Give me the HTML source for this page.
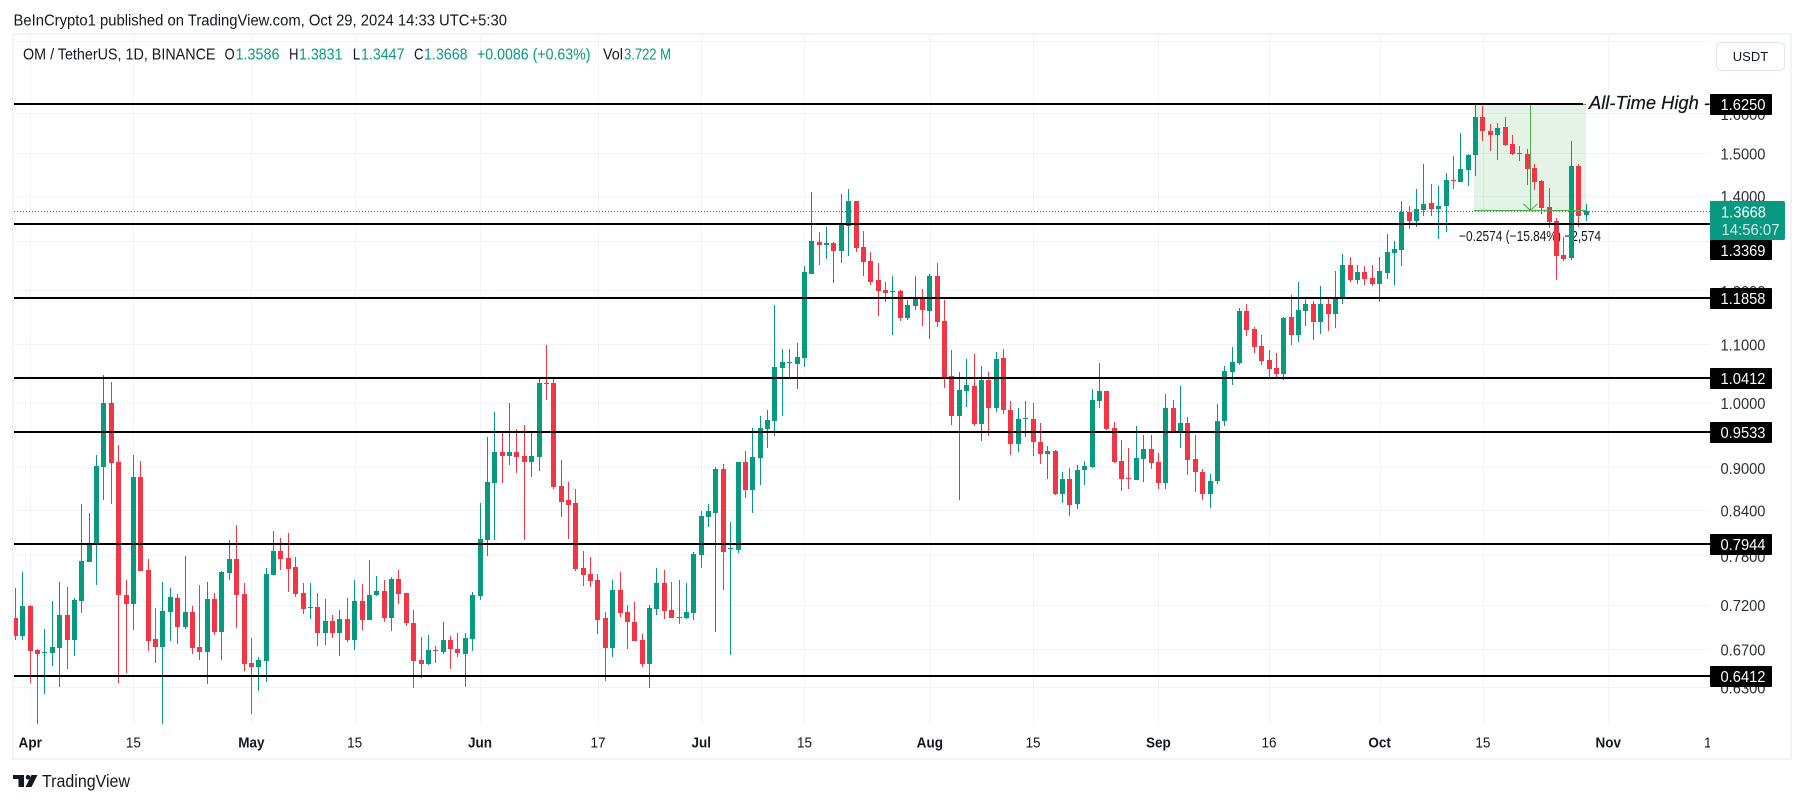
<!DOCTYPE html>
<html lang="en">
<head>
<meta charset="utf-8">
<title>OM / TetherUS chart</title>
<style>
html,body{margin:0;padding:0;background:#fff;width:1804px;height:803px;overflow:hidden}
svg{display:block}
text{font-family:"Liberation Sans",sans-serif;fill:#131722}
</style>
</head>
<body>
<svg id="chart" xmlns="http://www.w3.org/2000/svg" width="1804" height="803" viewBox="0 0 1804 803">
  <rect x="0" y="0" width="1804" height="803" fill="#ffffff"/>
  <text x="13.5" y="25.5" font-size="15.5" textLength="493.5" lengthAdjust="spacingAndGlyphs">BeInCrypto1 published on TradingView.com, Oct 29, 2024 14:33 UTC+5:30</text>
  <rect x="13" y="34" width="1778" height="725" fill="#ffffff" stroke="#f0f3fa" stroke-width="2"/>
  <g id="grid"></g>

  <g>
    <rect x="1474" y="104" width="112" height="106" fill="#4caf50" fill-opacity="0.15"/>
    <text x="1459" y="241" font-size="14.5" textLength="142" lengthAdjust="spacingAndGlyphs">−0.2574 (−15.84%) −2,574</text>
  </g>

  <line x1="14" x2="1710" y1="211.5" y2="211.5" stroke="#089981" stroke-width="1" stroke-dasharray="1 2"/>
  <g id="candles" shape-rendering="crispEdges"></g>

  <g stroke="#4caf50" stroke-width="1" fill="none">
    <line x1="1474" x2="1586" y1="104.5" y2="104.5"/>
    <line x1="1474" x2="1586" y1="210.5" y2="210.5"/>
    <line x1="1530.5" x2="1530.5" y1="104.5" y2="210.5"/>
    <polyline points="1523.3,203.7 1530.5,210.5 1537.5,203.7"/>
  </g>
  <g id="levels" shape-rendering="crispEdges"></g>

  <text x="1589" y="109" font-size="18.5" font-style="italic" textLength="121" lengthAdjust="spacingAndGlyphs" fill="#000" stroke="#000" stroke-width="0.2">All-Time High -</text>

  <g id="y-axis"></g>
  <g>
    <path d="M1710 201H1783a2 2 0 0 1 2 2V238a2 2 0 0 1 -2 2H1710Z" fill="#089981"/>
    <text x="1721" y="217.3" font-size="15.5" textLength="45" lengthAdjust="spacingAndGlyphs" style="fill:#fff">1.3668</text>
    <text x="1721.5" y="235" font-size="15.5" textLength="58" lengthAdjust="spacingAndGlyphs" style="fill:#d3ece7">14:56:07</text>
  </g>
  <g id="level-tags"></g>

  <g>
    <rect x="1716.5" y="42.5" width="68" height="28" rx="5" fill="#fff" stroke="#e0e3eb"/>
    <text x="1750.5" y="61" font-size="13" text-anchor="middle">USDT</text>
  </g>

  <g font-size="15.3">
    <text x="23" y="59.3" textLength="192.5" lengthAdjust="spacingAndGlyphs">OM / TetherUS, 1D, BINANCE</text>
    <text x="224.6" y="59.3" textLength="10" lengthAdjust="spacingAndGlyphs">O</text>
    <text x="235.5" y="59.3" textLength="44" lengthAdjust="spacingAndGlyphs" style="fill:#089981">1.3586</text>
    <text x="289" y="59.3" textLength="9.5" lengthAdjust="spacingAndGlyphs">H</text>
    <text x="299" y="59.3" textLength="43.5" lengthAdjust="spacingAndGlyphs" style="fill:#089981">1.3831</text>
    <text x="352.8" y="59.3" textLength="7.5" lengthAdjust="spacingAndGlyphs">L</text>
    <text x="361" y="59.3" textLength="43.5" lengthAdjust="spacingAndGlyphs" style="fill:#089981">1.3447</text>
    <text x="414" y="59.3" textLength="9.5" lengthAdjust="spacingAndGlyphs">C</text>
    <text x="424" y="59.3" textLength="43.6" lengthAdjust="spacingAndGlyphs" style="fill:#089981">1.3668</text>
    <text x="477" y="59.3" textLength="113.5" lengthAdjust="spacingAndGlyphs" style="fill:#089981">+0.0086 (+0.63%)</text>
    <text x="603" y="59.3" textLength="20" lengthAdjust="spacingAndGlyphs">Vol</text>
    <text x="624" y="59.3" textLength="47" lengthAdjust="spacingAndGlyphs" style="fill:#089981">3.722 M</text>
  </g>

  <defs><clipPath id="time-clip"><rect x="14" y="725" width="1696" height="32"/></clipPath></defs>
  <g id="x-axis" clip-path="url(#time-clip)"></g>

  <g>
    <path fill="#131722" d="M13 775H24V787H18.5V779H13ZM37.5 775L31.5 787H25.5L31.5 775Z"/>
    <circle cx="28" cy="777.3" r="2.3" fill="#131722"/>
    <text x="42" y="787" font-size="17.5" textLength="88" lengthAdjust="spacingAndGlyphs">TradingView</text>
  </g>
</svg>

<script>
// ---- chart data ----
// candles run day by day; firstCandleDay is the day offset from Apr 1 of the first candle
const firstCandleDay = -2;
const opens = [
.7059,.6859,.7198,.6701,.6672,.6672,.6726,.7093,.6814,.7260,.7735,.7960,.9026,1.0009,.9094,.7327,.7225,
.8875,.7631,.6822,.6737,.7131,.7292,.6960,.7128,.6734,.6683,.7280,.6903,.7597,.7769,.7339,.6561,.6522,
.6582,.7570,.7870,.7781,.7668,.7351,.7178,.7186,.6889,.7025,
.6889,.7047,.6811,.7256,.7036,.7327,.7375,.7059,.7520,.7351,
.7001,.6593,.6551,.6701,.6679,.6811,.6712,.6658,.6822,.7316,
.8012,.8790,.9243,.9183,.9243,.9183,.9094,.9168,1.0340,1.0340,
.8747,.8550,.8508,.7656,.7582,.7508,.7059,.6723,.7387,.7128,
.7013,.6811,.6551,.7163,.7472,.7151,.7070,.7059,.7116,.7819,
.8317,.8371,.8992,.7896,.7883,.9094,.8690,.9153,.9596,.9721,
1.0595,1.0682,1.0665,1.0769,1.2345,1.3003,1.2940,1.2982,1.2814,1.3346,
1.3899,1.2898,1.2608,1.2225,1.2028,1.1989,1.2009,1.1492,1.1719,1.1853,
1.1624,1.2305,1.1436,1.0459,.9800,1.0207,1.0290,.9674,1.0391,.9928,
1.0769,.9896,.9364,.9753,.9753,.9395,.9213,.9258,.8634,.8846,
.8494,.8977,.9021,1.0042,1.0207,.9611,.9109,.8861,.8832,.9138,
.9288,.9094,.8790,.9928,.9534,.9690,.9138,.8948,.8634,.8818,
.9721,1.0527,1.0682,1.1624,1.1288,1.0980,1.0734,1.0595,1.0493,1.1511,
1.1179,1.1624,1.1757,1.1417,1.1757,1.1568,1.1853,1.2526,1.2225,1.2385,
1.2265,1.2147,1.2365,1.2772,1.2835,1.3652,1.3454,1.3697,1.3853,1.3719,
1.3786,1.4381,1.4334,1.4617,1.4977,1.5931,1.5573,1.5473,1.5674,1.5248,
1.5026,1.5002,1.4665,1.4358,1.3764,1.3454,1.2731,1.2669,1.4712,1.3586];
const highs = [
.7411,.7606,.7209,.6712,.6933,.7256,.7484,.7423,.7292,.8494,.8371,.9198,1.0476,1.0357,.9349,.7508,.9198,
.9109,.7769,.7174,.7484,.7411,.7339,.7807,.7198,.7447,.7484,.7351,.7618,.8012,.8209,.7472,.6833,.6625,
.7656,.8130,.8038,.8104,.7794,.7472,.7472,.7351,.7280,.7093,
.7151,.7292,.7508,.7459,.7756,.7558,.7508,.7545,.7631,.7351,
.7151,.6844,.6866,.6745,.7013,.6855,.6889,.6889,.7363,.8508,
.9471,.9864,.9564,1.0009,.9596,.9658,.9549,1.0425,1.0999,1.0425,
.9124,.8804,.8704,.7870,.7794,.7582,.7128,.7508,.7606,.7209,
.7245,.6878,.7209,.7656,.7631,.7484,.7508,.7472,.7857,.8399,
.8494,.9021,.9065,.8250,.9094,.9258,.9611,.9800,.9896,1.1738,
1.0928,1.0928,1.1035,1.2506,1.4103,1.3216,1.3324,1.3003,1.4058,1.4172,
1.3899,1.3238,1.2793,1.2567,1.2186,1.2305,1.2028,1.1834,1.2305,1.2048,
1.2345,1.2567,1.1834,1.0910,1.0527,1.0751,1.0840,1.0629,1.0527,1.0875,
1.0928,1.0042,.9928,1.0042,1.0009,.9690,.9333,.9273,.8948,.9006,
.9050,.9109,1.0240,1.0682,1.0207,.9705,.9425,.9303,.9643,.9502,
.9502,.9228,1.0156,1.0058,1.0290,.9785,.9502,.8992,.8919,.9993,
1.0629,1.0964,1.1681,1.1757,1.1325,1.1179,1.0910,1.0857,1.1511,1.1931,
1.2186,1.1892,1.1815,1.2107,1.1853,1.2405,1.2752,1.2689,1.2526,1.2506,
1.2526,1.2689,1.3174,1.3024,1.3899,1.3786,1.4172,1.4760,1.4288,1.4242,
1.4547,1.4953,1.5523,1.5002,1.6250,1.6218,1.5751,1.5776,1.5931,1.5473,
1.5199,1.5124,1.4760,1.4381,1.4195,1.3519,1.3109,1.5322,1.4760,1.3831];
const lows = [
.6814,.6814,.6354,.5941,.6241,.6532,.6313,.6501,.6639,.7120,.7735,.7451,.8554,.8499,.6354,.6459,.6925,
.7622,.6693,.6564,.5941,.6803,.6770,.6937,.6661,.6596,.6344,.6870,.6596,.7512,.6948,.6480,.6042,.6272,
.6364,.7570,.7631,.7363,.7304,.7105,.7047,.6745,.6756,.6833,
.6636,.6789,.6701,.6922,.7036,.7316,.7013,.6911,.7221,.6968,
.6300,.6403,.6540,.6561,.6658,.6497,.6625,.6310,.6690,.7268,
.7807,.8012,.8790,.9050,.8933,.8012,.8875,.8962,1.0058,.8704,
.8317,.8025,.7618,.7435,.7423,.6878,.6372,.6625,.7070,.6712,
.6800,.6519,.6300,.7093,.7047,.7059,.6990,.7047,.7036,.7656,
.8183,.6900,.7387,.6647,.7844,.8578,.8371,.8761,.9303,.9487,
.9800,1.0425,1.0240,1.0612,1.2345,1.2526,1.2649,1.2166,1.2567,1.2711,
1.2793,1.2305,1.2127,1.1530,1.1796,1.1179,1.1436,1.1455,1.1643,1.1343,
1.1106,1.1325,1.0257,.9658,.8550,.9944,.9643,.9410,.9487,.9864,
.9832,.9198,.9243,.9471,.9183,.9065,.8846,.8620,.8508,.8330,
.8426,.8761,.9006,.9928,.9580,.9079,.8676,.8704,.8832,.8804,
.8992,.8704,.8704,.9534,.9303,.8904,.8662,.8550,.8440,.8775,
.9643,1.0307,1.0647,1.1161,1.0857,1.0647,1.0425,1.0425,1.0391,1.0999,
1.1052,1.1343,1.1088,1.1197,1.1252,1.1306,1.1757,1.2186,1.2147,1.2127,
1.2107,1.1796,1.2245,1.2127,1.2506,1.3280,1.3324,1.3564,1.3564,1.3066,
1.3216,1.4172,1.4334,1.4242,1.4475,1.5322,1.5075,1.4856,1.5199,1.4977,
1.4832,1.4265,1.4149,1.3609,1.3302,1.2225,1.2608,1.2628,1.3324,1.3447];
const closes = [
.6859,.7198,.6693,.6661,.6679,.6734,.7093,.6814,.7268,.7744,.7973,.9036,1.0009,.9084,.7331,.7225,.8875,
.7622,.6803,.6737,.7139,.7304,.6960,.7128,.6726,.6683,.7280,.6903,.7606,.7769,.7331,.6553,.6522,.6593,
.7582,.7870,.7769,.7643,.7339,.7163,.7186,.6889,.7025,.6889,
.7047,.6811,.7256,.7036,.7327,.7375,.7059,.7520,.7339,.7001,
.6582,.6551,.6701,.6690,.6811,.6712,.6668,.6833,.7327,.8025,
.8804,.9243,.9183,.9243,.9168,.9094,.9183,1.0340,1.0324,.8733,
.8522,.8481,.7643,.7570,.7496,.7036,.6723,.7387,.7116,.7013,
.6800,.6551,.7174,.7472,.7139,.7059,.7059,.7128,.7832,.8330,
.8399,.8992,.7857,.7909,.9094,.8690,.9168,.9611,.9737,1.0612,
1.0699,1.0699,1.0787,1.2385,1.3024,1.2940,1.2982,1.2814,1.3389,1.3899,
1.2877,1.2587,1.2186,1.2009,1.1970,1.2009,1.1492,1.1738,1.1853,1.1643,
1.2305,1.1417,1.0442,.9800,1.0223,1.0307,.9674,1.0391,.9928,1.0751,
.9896,.9364,.9753,.9769,.9395,.9213,.9258,.8634,.8846,.8481,
.8977,.9036,1.0058,1.0207,.9596,.9094,.8846,.8846,.9153,.9288,
.9079,.8790,.9928,.9534,.9690,.9124,.8948,.8634,.8818,.9721,
1.0544,1.0699,1.1624,1.1270,1.0963,1.0717,1.0578,1.0493,1.1492,1.1179,
1.1643,1.1757,1.1417,1.1757,1.1568,1.1873,1.2526,1.2225,1.2385,1.2245,
1.2147,1.2405,1.2793,1.2856,1.3652,1.3454,1.3719,1.3831,1.3719,1.3786,
1.4381,1.4358,1.4641,1.4977,1.5931,1.5573,1.5473,1.5649,1.5223,1.5002,
1.5002,1.4641,1.4334,1.3742,1.3433,1.2711,1.2649,1.4712,1.3564,1.3668];
const priceTicks = [1.8,1.6,1.5,1.4,1.3,1.2,1.1,1.0,0.9,0.84,0.78,0.72,0.67,0.63];
const timeTickDays = [0,14,30,44,61,77,91,105,122,136,153,168,183,197,214,228];
const timeTickLabels = ["Apr","15","May","15","Jun","17","Jul","15","Aug","15","Sep","16","Oct","15","Nov","15"];
const timeTickIsMonth = [true,false,true,false,true,false,true,false,true,false,true,false,true,false,true,false];
const levelPrices = [1.6250,1.3369,1.1858,1.0412,0.9533,0.7944,0.6412];

// ---- axis functions ----
const xOrigin = 30.2, dayWidth = 7.374;
const yAnchor = 104.8, yAnchorPrice = 1.625, yPerLog = 615.4;
function xScale(day){ return xOrigin + dayWidth * day; }
function yScale(price){ return yAnchor + Math.log(yAnchorPrice / price) * yPerLog; }

const NS = 'http://www.w3.org/2000/svg';
function make(tag, parent, attrs){
  const el = document.createElementNS(NS, tag);
  for (const k in attrs) el.setAttribute(k, attrs[k]);
  parent.appendChild(el);
  return el;
}
const gridG = document.getElementById('grid');
const candleG = document.getElementById('candles');
const levelG = document.getElementById('levels');
const yAxisG = document.getElementById('y-axis');
const xAxisG = document.getElementById('x-axis');
const tagG = document.getElementById('level-tags');

// grid + axis labels
priceTicks.forEach(function(p){
  const y = Math.round(yScale(p)) - 0.5;
  const gl = make('line', gridG, {x1:14, x2:1710, y1:y, y2:y, stroke:'#f0f3fa', 'stroke-width':1});
  
  
  if (p < 1.7) {
    const t = make('text', yAxisG, {x:1720.5, y:yScale(p) + 5.5, 'font-size':15.5, textLength:45, lengthAdjust:'spacingAndGlyphs', style:'fill:#2a2e39'});
    
    
    t.textContent = p.toFixed(4);
  }
});
timeTickDays.forEach(function(d, i){
  const x = Math.round(xScale(d)) + 0.5;
  if (x < 1710) {
    const gl = make('line', gridG, {x1:x, x2:x, y1:35, y2:724, stroke:'#f0f3fa', 'stroke-width':1});
    
    
  }
  const t = make('text', xAxisG, {x:xScale(d), y:747.3, 'font-size':15, 'text-anchor':'middle', 'font-weight':timeTickIsMonth[i] ? 700 : 400});
  
  
  t.textContent = timeTickLabels[i];
  t.setAttribute('textLength', (t.getComputedTextLength() * 0.9).toFixed(1));
  t.setAttribute('lengthAdjust', 'spacingAndGlyphs');
});

// candles
const UP = '#089981', DOWN = '#f23645';
opens.forEach(function(o, i){
  const c = closes[i], h = highs[i], l = lows[i];
  const day = firstCandleDay + i;
  const xc = Math.floor(xScale(day));
  const col = c >= o ? UP : DOWN;
  const g = make('g', candleG, {fill: col});
  
  
  const yh = Math.round(yScale(h)), yl = Math.round(yScale(l));
  const wick = make('rect', g, {x:xc, y:yh, width:1, height:Math.max(1, yl - yh)});
  
  
  const top = Math.round(yScale(Math.max(o, c))), bot = Math.round(yScale(Math.min(o, c)));
  const bx = Math.max(14, xc - 2);
  const body = make('rect', g, {x:bx, y:top, width:xc + 3 - bx, height:Math.max(1, bot - top)});
  
  
});

// horizontal levels + tags
levelPrices.forEach(function(p, i){
  const yc = Math.round(yScale(p));
  const endX = i === 0 ? 1583 : 1710;
  const ln = make('rect', levelG, {x:14, y:yc - 2, width:endX - 14, height:2, fill:'#000'});
  
  
  // the 1.3369 tag is pushed below the last-price tag, as the axis does on collision
  const boxTop = (yc - 11 > 201 - 21 && yc - 11 < 240) ? 240 : yc - 11;
  const boxH = boxTop === 240 ? 20 : 21;
  const box = make('rect', tagG, {x:1710, y:boxTop, width:62, height:boxH, rx:1, fill:'#000'});
  
  
  const t = make('text', tagG, {x:1720.5, y:boxTop + 16, 'font-size':15.5, textLength:45, lengthAdjust:'spacingAndGlyphs', style:'fill:#fff'});
  
  
  t.textContent = p.toFixed(4);
});
</script>
</body>
</html>
